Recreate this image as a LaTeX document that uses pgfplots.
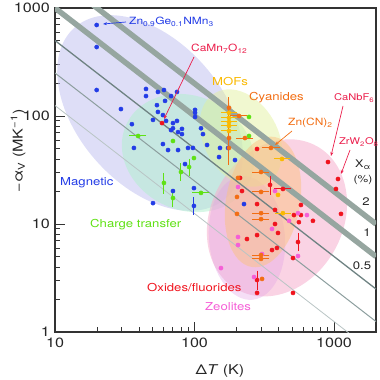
\documentclass[border=0pt]{standalone}
\usepackage{fontspec}
\setmainfont{TeX Gyre Heros}[FakeStretch=1.2]
\usepackage{pgfplots}
\pgfplotsset{compat=1.18}
\usetikzlibrary{arrows.meta}
\definecolor{magc}{RGB}{195,195,240}
\definecolor{ctc}{RGB}{175,240,205}
\definecolor{mofc}{RGB}{225,240,150}
\definecolor{cyc}{RGB}{250,195,130}
\definecolor{oxc}{RGB}{245,175,205}
\definecolor{zec}{RGB}{225,160,230}
\definecolor{cblue}{RGB}{35,60,230}
\definecolor{cgreen}{RGB}{95,225,20}
\definecolor{cred}{RGB}{240,20,30}
\definecolor{corange}{RGB}{242,110,20}
\definecolor{cyellow}{RGB}{250,185,0}
\definecolor{cpink}{RGB}{245,95,215}
\definecolor{ccrim}{RGB}{235,30,75}
\definecolor{bandgray}{RGB}{150,166,160}
\definecolor{lgray1}{RGB}{110,130,130}
\definecolor{lgray2}{RGB}{140,158,158}
\definecolor{lgray3}{RGB}{185,197,197}
\begin{document}
\begin{tikzpicture}
\begin{axis}[
  xmode=log, ymode=log,
  scale only axis, width=321bp, height=324bp,
  xmin=10, xmax=2000, ymin=1, ymax=1000,
  axis line style={line width=1.3bp, draw=black!80},
  every tick/.style={black!80, line width=0.9bp},
  major tick length=10bp, minor tick length=5bp,
  tick align=inside,
  tick pos=left,
  xtick={10,100,1000}, xticklabels={10,100,1000},
  ytick={1,10,100,1000}, yticklabels={1,10,100,1000},
  tick label style={font=\fontsize{13.5}{14}\selectfont, text=black!85, inner sep=1bp},
  xticklabel style={yshift=-5bp},
  yticklabel style={xshift=-4bp},
  xlabel={Δ\textit{T} (K)}, ylabel={−α\textsubscript{V} (MK\textsuperscript{−1})},
  label style={font=\fontsize{13.5}{15}\selectfont, text=black!85},
  xlabel style={at={(axis description cs:0.514,-0.12)}, anchor=center},
  ylabel style={at={(axis description cs:-0.115,0.559)}, anchor=center},
  clip=true,
  mark size=2.1bp,
  error bars/error bar style={line width=1bp},
]
% shaded regions
\fill[magc, opacity=0.55, rotate around={-48.5:(axis cs:48,106.6)}] (axis cs:48,106.6) ellipse [x radius=114bp, y radius=72bp];
\fill[ctc, opacity=0.5, rotate around={-25:(axis cs:89.8,45.4)}] (axis cs:89.8,45.4) ellipse [x radius=68bp, y radius=57bp];
\fill[oxc, opacity=0.55, rotate around={61:(axis cs:390,11.4)}] (axis cs:390,11.4) ellipse [x radius=82bp, y radius=66bp];
\fill[zec, opacity=0.35, rotate around={95:(axis cs:237.7,7.42)}] (axis cs:237.7,7.42) ellipse [x radius=62bp, y radius=38bp];
\fill[mofc, opacity=0.45, rotate around={-60:(axis cs:215.4,62.5)}] (axis cs:215.4,62.5) ellipse [x radius=52bp, y radius=37bp];
\fill[cyc, opacity=0.5, rotate around={80:(axis cs:309.8,16.0)}] (axis cs:309.8,16.0) ellipse [x radius=66bp, y radius=37bp];
% constant X_alpha lines
\addplot[no marks, line width=5.5bp, bandgray] coordinates {(10,2000) (2000,10)};
\addplot[no marks, line width=5.5bp, bandgray] coordinates {(10,1000) (2000,5)};
\addplot[no marks, line width=1.3bp, lgray1] coordinates {(10,500) (2000,2.5)};
\addplot[no marks, line width=1bp, lgray2] coordinates {(10,250) (2000,1.25)};
\addplot[no marks, line width=0.8bp, lgray3] coordinates {(10,125) (2000,0.625)};
% Magnetic
\addplot[only marks, mark=*, cblue] coordinates {
(19.9,696)(19.9,435)(19.9,174)(29.7,116)(35.6,84)(36.8,50.6)(44.9,178)(44.9,153)
(54.7,167)(60.4,174)(67.9,153)(74.9,167)(53.8,126)(54.7,109)(61.5,138)(50.4,92)
(59.4,102)(62.5,90)(70.1,86)(74.9,90)(67.9,74)(70.1,77)(76.2,71)(81.3,76)(81.3,68)
(100.9,114)(100.9,107)(100.9,98)(111.3,77)(115,68)(59.4,55)(64.6,48.4)(76.2,48.4)
(89.8,50.6)(97.5,50.6)(123,53.9)(152.3,50.6)(173.9,50.6)(149.9,41.7)(195.1,39.1)
(85.5,35.9)(70.1,20.2)(50.4,15.6)(99.1,21.5)(226.3,15.3)};
\addplot[only marks, mark=*, cblue, error bars/.cd, y dir=both, y explicit,
  error mark options={mark size=4.5bp, line width=1bp}] coordinates {(99.1,14.7) +- (0,1.3)};
% Charge transfer
\addplot[only marks, mark=*, cgreen] coordinates {(70.1,58.7)(99.1,40.8)(245.8,98)(245.8,65.3)};
\addplot[only marks, mark=*, cgreen, error bars/.cd, x dir=both, x explicit relative,
  error mark options={mark size=3bp, line width=1bp}] coordinates {(39.4,65.3) +- (0.09,0) (111.3,19.4) +- (0.09,0)};
\addplot[only marks, mark=*, cgreen, error bars/.cd, y dir=both, y explicit,
  error mark options={mark size=4.5bp, line width=1bp}] coordinates {
(91.4,33.7) +- (0,3) (80,30.3) +- (0,2.8) (60.4,24) +- (0,3) (70.1,17.4) +- (0,1.7)};
% Oxides / fluorides
\addplot[only marks, mark=*, cred] coordinates {
(280.7,49.5)(905.4,37.5)(1068,26.1)(1033,21.1)(1122,12.4)(212,26.7)(219,20.2)
(280.7,15.3)(377.6,13.5)(579.4,15.0)(579.4,12.1)(516.4,12.1)(706.3,10.7)(560,10.4)
(377.6,10.0)(396.8,8.26)(237.7,7.26)(280.7,7.9)(359.4,5.74)(390,6.0)(508.2,4.84)
(280.7,2.30)(508.2,2.30)};
\addplot[only marks, mark=*, cred, error bars/.cd, x dir=both, x explicit relative,
  error mark options={mark size=3bp, line width=1bp}] coordinates {(430.5,21.1) +- (0.09,0)};
\addplot[only marks, mark=*, cred, error bars/.cd, y dir=both, y explicit,
  error mark options={mark size=4.5bp, line width=1bp}] coordinates {
(347.7,23) +- (0,2.4) (551.9,6.81) +- (0,0.65) (280.7,3.03) +- (0,0.33)};
% Zeolites
\addplot[only marks, mark=*, cpink] coordinates {
(205,22.0)(377.6,20.2)(476,10.7)(551.9,12.6)(639.7,12.1)(359.4,9.0)(205,7.58)
(205,6.39)(154.8,3.91)(304.8,5.27)(551.9,5.05)(267,3.23)};
% Cyanides
\addplot[only marks, mark=*, corange, error bars/.cd, y dir=both, y explicit,
  error mark options={mark size=4.5bp, line width=1bp}] coordinates {(176.7,62.5) += (0,72.5) -= (0,23.5)};
\addplot[only marks, mark=*, corange] coordinates {
(176.7,119)(176.7,50.6)(201.6,17.8)(201.6,12.4)(205,26.7)(304.8,3.10)};
\addplot[only marks, mark=*, corange, error bars/.cd, x dir=both, x explicit relative,
  error mark options={mark size=3bp, line width=1bp}] coordinates {
(208.4,100) +- (0.09,0) (230,62.5) +- (0.09,0) (353.3,50.6) +- (0.1,0)
(299.9,30.3) +- (0.09,0) (299.9,19.8) +- (0.09,0) (299.9,12.6) +- (0.09,0)
(299.9,11.1) +- (0.09,0) (299.9,5.16) +- (0.09,0) (299.9,4.75) +- (0.09,0)};
% MOFs
\addplot[only marks, mark=*, cyellow, error bars/.cd, x dir=both, x explicit relative,
  error mark options={mark size=3bp, line width=1bp}] coordinates {
(176.7,107) +- (0.08,0) (176.7,96) +- (0.08,0) (176.7,88) +- (0.08,0)
(176.7,81) +- (0.08,0) (176.7,72.7) +- (0.08,0) (423.8,40) +- (0.08,0) (430.5,12.6) +- (0.08,0)};
\addplot[only marks, mark=*, cyellow] coordinates {(396.8,18.6)};
% CaMn7O12
\addplot[only marks, mark=*, cred] coordinates {(58.5,86)};
\end{axis}
% annotations (canvas coordinates, bp)
\begin{scope}[x=1bp, y=1bp]
\draw[cblue, line width=0.7bp, -{Stealth[length=4bp,width=3bp]}] (71,310) -- (48,308);
\node[anchor=west, cblue, font=\fontsize{10}{11}\selectfont, inner sep=0pt] at (74,310) {Zn\textsubscript{0.9}Ge\textsubscript{0.1}NMn\textsubscript{3}};
\draw[ccrim, line width=0.7bp, -{Stealth[length=4bp,width=3bp]}] (139,275) -- (109,213);
\node[anchor=west, ccrim, font=\fontsize{10}{11}\selectfont, inner sep=0pt] at (136,283) {CaMn\textsubscript{7}O\textsubscript{12}};
\node[anchor=west, cyellow, font=\fontsize{11}{12}\selectfont, inner sep=0pt] at (157,250) {MOFs};
\node[anchor=west, corange, font=\fontsize{11}{12}\selectfont, inner sep=0pt] at (194,234) {Cyanides};
\draw[corange, line width=0.7bp, -{Stealth[length=4bp,width=3bp]}] (237,201) -- (220,187);
\node[anchor=west, corange, font=\fontsize{10}{11}\selectfont, inner sep=0pt] at (233,209) {Zn(CN)\textsubscript{2}};
\draw[ccrim, line width=0.7bp, -{Stealth[length=4bp,width=3bp]}] (288,226) -- (276,176);
\node[anchor=west, ccrim, font=\fontsize{9.3}{10}\selectfont, inner sep=0pt] at (279,234) {CaNbF\textsubscript{6}};
\draw[ccrim, line width=0.7bp, -{Stealth[length=4bp,width=3bp]}] (295,182) -- (286,158);
\node[anchor=west, ccrim, font=\fontsize{9.3}{10}\selectfont, inner sep=0pt] at (284,190) {ZrW\textsubscript{2}O\textsubscript{8}};
\node[black!85, font=\fontsize{10.5}{11}\selectfont, inner sep=0pt] at (308,167) {X\textsubscript{α}};
\node[black!85, font=\fontsize{10}{11}\selectfont, inner sep=0pt] at (308,152) {(\%)};
\node[black!85, font=\fontsize{11}{12}\selectfont, inner sep=0pt] at (311,130) {2};
\node[black!85, font=\fontsize{11}{12}\selectfont, inner sep=0pt] at (312,99) {1};
\node[black!85, font=\fontsize{11}{12}\selectfont, inner sep=0pt] at (307,66) {0.5};
\node[anchor=west, cblue, font=\fontsize{11}{12}\selectfont, inner sep=0pt] at (5,149) {Magnetic};
\node[anchor=west, cgreen, font=\fontsize{11}{12}\selectfont, inner sep=0pt] at (35,107) {Charge transfer};
\node[anchor=west, cred, font=\fontsize{11}{12}\selectfont, inner sep=0pt] at (92,44) {Oxides/fluorides};
\node[anchor=west, cpink, font=\fontsize{11}{12}\selectfont, inner sep=0pt] at (150,25) {Zeolites};
\end{scope}
\pgfresetboundingbox
\useasboundingbox (-55bp,-48bp) rectangle (325bp,332bp);
\end{tikzpicture}
\end{document}
